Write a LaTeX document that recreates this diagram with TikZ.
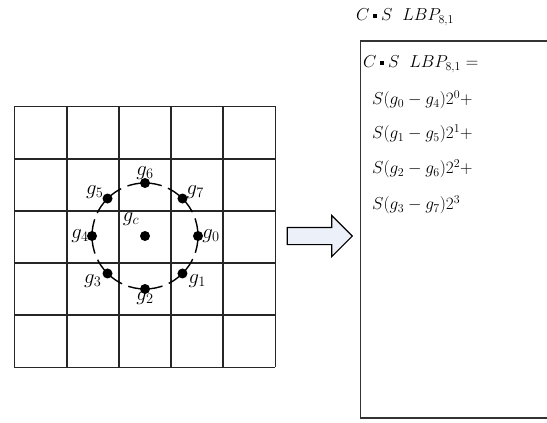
\documentclass[tikz,border=0pt]{standalone}
\usepackage{amsmath,amssymb}
\usepackage{tikz}
\usetikzlibrary{positioning, arrows.meta, shapes.arrows, calc}
\usepackage{xcolor}
\definecolor{arrowfill}{RGB}{236,240,248}
\newcommand{\csdot}{\mathbin{\vcenter{\hbox{\rule{3.8pt}{3.8pt}}}}}

\tikzset{
  gridline/.style={line width=1.8pt, black!85},
  pix/.style={circle, fill=black, inner sep=0pt, minimum size=10pt},
  glabel/.style={font=\huge, inner sep=0pt},
  eqline/.style={font=\LARGE, anchor=west, inner sep=0pt},
  headline/.style={font=\LARGE, anchor=west, inner sep=0pt}
}

\begin{document}
\begin{tikzpicture}[x=1pt, y=-1pt]
        \useasboundingbox (0,0) rectangle (547,423);
        % 5x5 pixel neighbourhood
        \foreach \k in {0,...,5} {
          \draw[gridline] (14.5+52.2*\k,106) -- (14.5+52.2*\k,367);
          \draw[gridline] (14,106.5+52.2*\k) -- (275,106.5+52.2*\k);
        }
        \draw[line width=1.4pt, dash pattern=on 14pt off 6.8pt, dash phase=-3pt]
          (145,236) circle (53);
        % centre and sampling points
        \node[pix] (gc) at (145,236) {};
        \node[pix] (g0) at ($(145,236)+(0:53)$) {};
        \node[pix] (g1) at ($(145,236)+(45:53)$) {};
        \node[pix] (g2) at ($(145,236)+(90:53)$) {};
        \node[pix] (g3) at ($(145,236)+(135:53)$) {};
        \node[pix] (g4) at ($(145,236)+(180:53)$) {};
        \node[pix] (g5) at ($(145,236)+(225:53)$) {};
        \node[pix] (g6) at ($(145,236)+(270:53)$) {};
        \node[pix] (g7) at ($(145,236)+(315:53)$) {};
        \node[glabel] (lc) at (131,219) {$g_c$};
        \node[glabel, right=-1pt of g0] (l0) {$g_0$};
        \node[glabel, below right=1pt and 6pt of g1.center, anchor=north west] (l1) {$g_1$};
        \node[glabel, below=-3pt of g2] (l2) {$g_2$};
        \node[glabel, below left=1pt and 6pt of g3.center, anchor=north east] (l3) {$g_3$};
        \node[glabel, left=-2pt of g4] (l4) {$g_4$};
        \node[glabel, above left=0pt and 4pt of g5.center, anchor=south east] (l5) {$g_5$};
        \node[glabel, above=-2pt of g6] (l6) {$g_6$};
        \node[glabel, above right=0pt and 4pt of g7.center, anchor=south west] (l7) {$g_7$};
        % block arrow
        \node[single arrow, draw, line width=1.1pt, fill=arrowfill,
              minimum height=65pt, inner xsep=0pt, inner ysep=8pt,
              single arrow head extend=12pt] (go) at (315.5,236) {};
        % result box
        \node[headline] (title) at (356,17) {$C\csdot S\;\ LBP_{8,1}$};
        \draw[line width=1.5pt, black!80] (560,41) -- (360.5,41) -- (360.5,418) -- (560,418);
        \node[headline] (eq) at (363,64) {$C\csdot S\;\ LBP_{8,1}=$};
        \node[eqline] (t0) at (372,100) {$S(g_0-g_4)2^0+$};
        \node[eqline] (t1) at (372,134) {$S(g_1-g_5)2^1+$};
        \node[eqline] (t2) at (372,169) {$S(g_2-g_6)2^2+$};
        \node[eqline] (t3) at (372,205) {$S(g_3-g_7)2^3$};
      \end{tikzpicture}
\end{document}
